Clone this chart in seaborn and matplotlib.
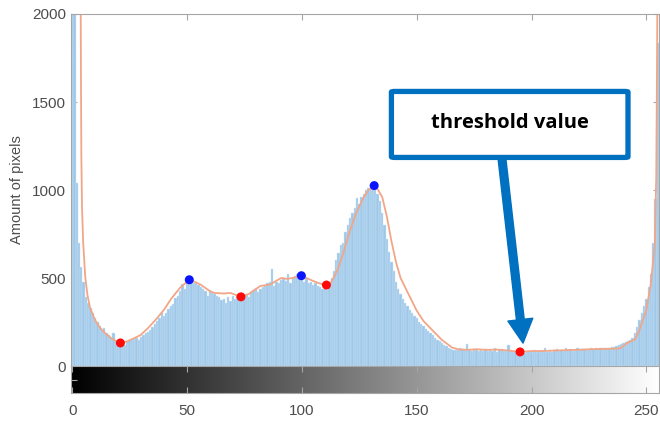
import numpy as np
import matplotlib
matplotlib.use("Agg")
import matplotlib.pyplot as plt
from matplotlib.patches import FancyBboxPatch, FancyArrowPatch, ArrowStyle
import seaborn as sns

# grey levels and pixel counts
levels = list(range(256))
counts = [
    3000, 2100, 1040, 700, 560, 480, 390, 360, 330, 300, 270, 250, 230, 205, 215, 185,
    175, 160, 190, 140, 150, 135, 128, 120, 140, 150, 145, 155, 160, 150, 165, 175,
    185, 195, 205, 220, 240, 255, 270, 305, 285, 300, 325, 340, 350, 385, 400, 425,
    465, 440, 470, 495, 480, 470, 475, 460, 450, 440, 425, 395, 430, 420, 410, 400,
    390, 375, 380, 360, 390, 370, 400, 380, 395, 380, 380, 395, 405, 390, 420, 430,
    445, 420, 440, 450, 455, 470, 480, 550, 455, 480, 470, 490, 500, 485, 520, 470,
    500, 510, 520, 505, 490, 480, 500, 470, 475, 460, 470, 455, 450, 440, 445, 430,
    470, 500, 540, 600, 640, 690, 700, 760, 800, 840, 870, 900, 955, 920, 960, 980,
    1000, 1010, 1030, 1020, 1000, 980, 940, 870, 800, 720, 650, 590, 540, 480, 440, 410,
    380, 360, 340, 320, 300, 285, 270, 250, 240, 225, 210, 200, 185, 175, 160, 150,
    140, 130, 120, 112, 105, 98, 92, 90, 92, 100, 95, 90, 125, 92, 88, 95,
    90, 85, 92, 88, 95, 85, 90, 88, 100, 82, 90, 95, 85, 88, 120, 85,
    80, 82, 78, 80, 95, 75, 82, 85, 80, 90, 88, 78, 92, 85, 100, 82,
    88, 80, 90, 95, 85, 92, 88, 100, 90, 95, 88, 92, 100, 90, 95, 98,
    92, 95, 100, 98, 102, 96, 105, 100, 100, 102, 105, 108, 110, 115, 120, 125,
    130, 135, 140, 150, 160, 190, 220, 260, 300, 340, 380, 450, 520, 700, 950, 1835,
]

# smoothed curve
curve_x = [3.55, 3.7, 3.85, 4.0, 4.3, 4.8, 5.7, 6.7, 7.8, 10, 12.2, 14.5, 16.6, 19, 21,
           24, 27, 29.8, 33, 37, 40, 43, 47, 51, 53, 56, 60, 62, 66, 69, 73.5, 77, 82,
           86, 91, 93.5, 96, 99.8, 102, 105.5, 108, 110.7, 112.5, 114, 116, 118, 121,
           124, 127, 129, 131.5, 133, 135, 137, 139, 141, 143, 146, 150, 153, 156.7,
           161, 165.4, 168, 172, 176, 180, 185, 190, 195, 200, 205, 210, 215, 220, 225,
           230, 235, 238.5, 241.5, 245, 247, 250, 252, 253.7, 254.3, 254.7, 254.9]
curve_y = [2600, 2100, 1600, 1200, 900, 700, 506, 400, 330, 260, 216, 185, 162, 142, 131,
           140, 158, 176, 215, 272, 320, 380, 445, 490, 480, 462, 425, 415, 412, 415, 393,
           410, 455, 462, 500, 495, 500, 513, 500, 480, 468, 460, 470, 505, 560, 640, 772,
           880, 960, 1000, 1025, 1005, 960, 850, 710, 590, 500, 420, 315, 255, 205,
           148, 105, 95, 92, 95, 92, 93, 88, 80, 85, 85, 88, 90, 92, 95,
           97, 98, 100, 130, 150, 205, 318, 470, 700, 1075, 1835, 2400]

# peaks and valleys
peak_x = [51, 99.8, 131.5]
peak_y = [490, 513, 1025]
valley_x = [21, 73.5, 110.7, 195]
valley_y = [131, 393, 460, 80]

sns.set_style("ticks")
plt.rcParams['font.family'] = ['Liberation Sans', 'DejaVu Sans']
gray = "#4d4d4d"
spine = "#a6a6a6"

fig = plt.figure(figsize=(6.6, 4.23), dpi=100)
ax = fig.add_axes([71 / 660, 1 - 366 / 423, 588 / 660, 352 / 423])
cax = fig.add_axes([71 / 660, 1 - 393 / 423, 588 / 660, 27 / 423])

sns.histplot(x=levels, weights=counts, discrete=True, ax=ax, color="#9dc8e9",
             alpha=1, edgecolor="#d3e6f5", linewidth=0.3)
sns.lineplot(x=curve_x, y=curve_y, ax=ax, color="#f2a688", linewidth=1.3,
             sort=False, estimator=None)
sns.scatterplot(x=peak_x, y=peak_y, ax=ax, color="#0a14ff", s=42, edgecolor="none", zorder=5)
sns.scatterplot(x=valley_x, y=valley_y, ax=ax, color="#ff0a0a", s=42, edgecolor="none", zorder=5)

ax.set_xlim(-0.5, 255.5)
ax.set_ylim(0, 2000)
ax.set_yticks([0, 500, 1000, 1500, 2000])
ax.set_xticks([0, 50, 100, 150, 200, 250])
ax.set_xticklabels([])
ax.set_ylabel("Amount of pixels", color=gray, fontsize=10.5, labelpad=6)
ax.set_xlabel("")
ax.tick_params(direction="in", length=4, color=spine, labelcolor=gray, labelsize=11,
               top=True, right=True, width=0.8)
for s in ax.spines.values():
    s.set_color(spine)
    s.set_linewidth(0.8)

# grey scale bar under the histogram
cax.imshow(np.array(levels)[None, :], cmap="gray", aspect="auto",
           extent=(-0.5, 255.5, 0, 1))
cax.set_xlim(-0.5, 255.5)
cax.set_xticks([0, 50, 100, 150, 200, 250])
cax.set_yticks([0.5])
cax.set_yticklabels([])
cax.tick_params(direction="in", length=4, color=spine, labelcolor=gray, labelsize=11,
                top=True, width=0.8, pad=8)
for s in cax.spines.values():
    s.set_color(spine)
    s.set_linewidth(0.8)

# annotation box and arrow
box = FancyBboxPatch((139.0, 1185), 103, 375, boxstyle="round,pad=0,rounding_size=1.5",
                     transform=ax.transData, facecolor="white", edgecolor="#0070c0",
                     linewidth=3.8, zorder=6, mutation_aspect=3)
ax.add_patch(box)
ax.text(190.5, 1378, "threshold value", ha="center", va="center", fontsize=14.5,
        fontweight="bold", family=["Open Sans", "DejaVu Sans"], color="black", zorder=7)
arrow = FancyArrowPatch((187.2, 1170), (196.3, 130),
                        arrowstyle=ArrowStyle.Simple(head_length=17, head_width=18, tail_width=5.6),
                        mutation_scale=1, color="#0070c0", shrinkA=0, shrinkB=0, zorder=6)
ax.add_patch(arrow)

fig.savefig("out.png", dpi=100)
